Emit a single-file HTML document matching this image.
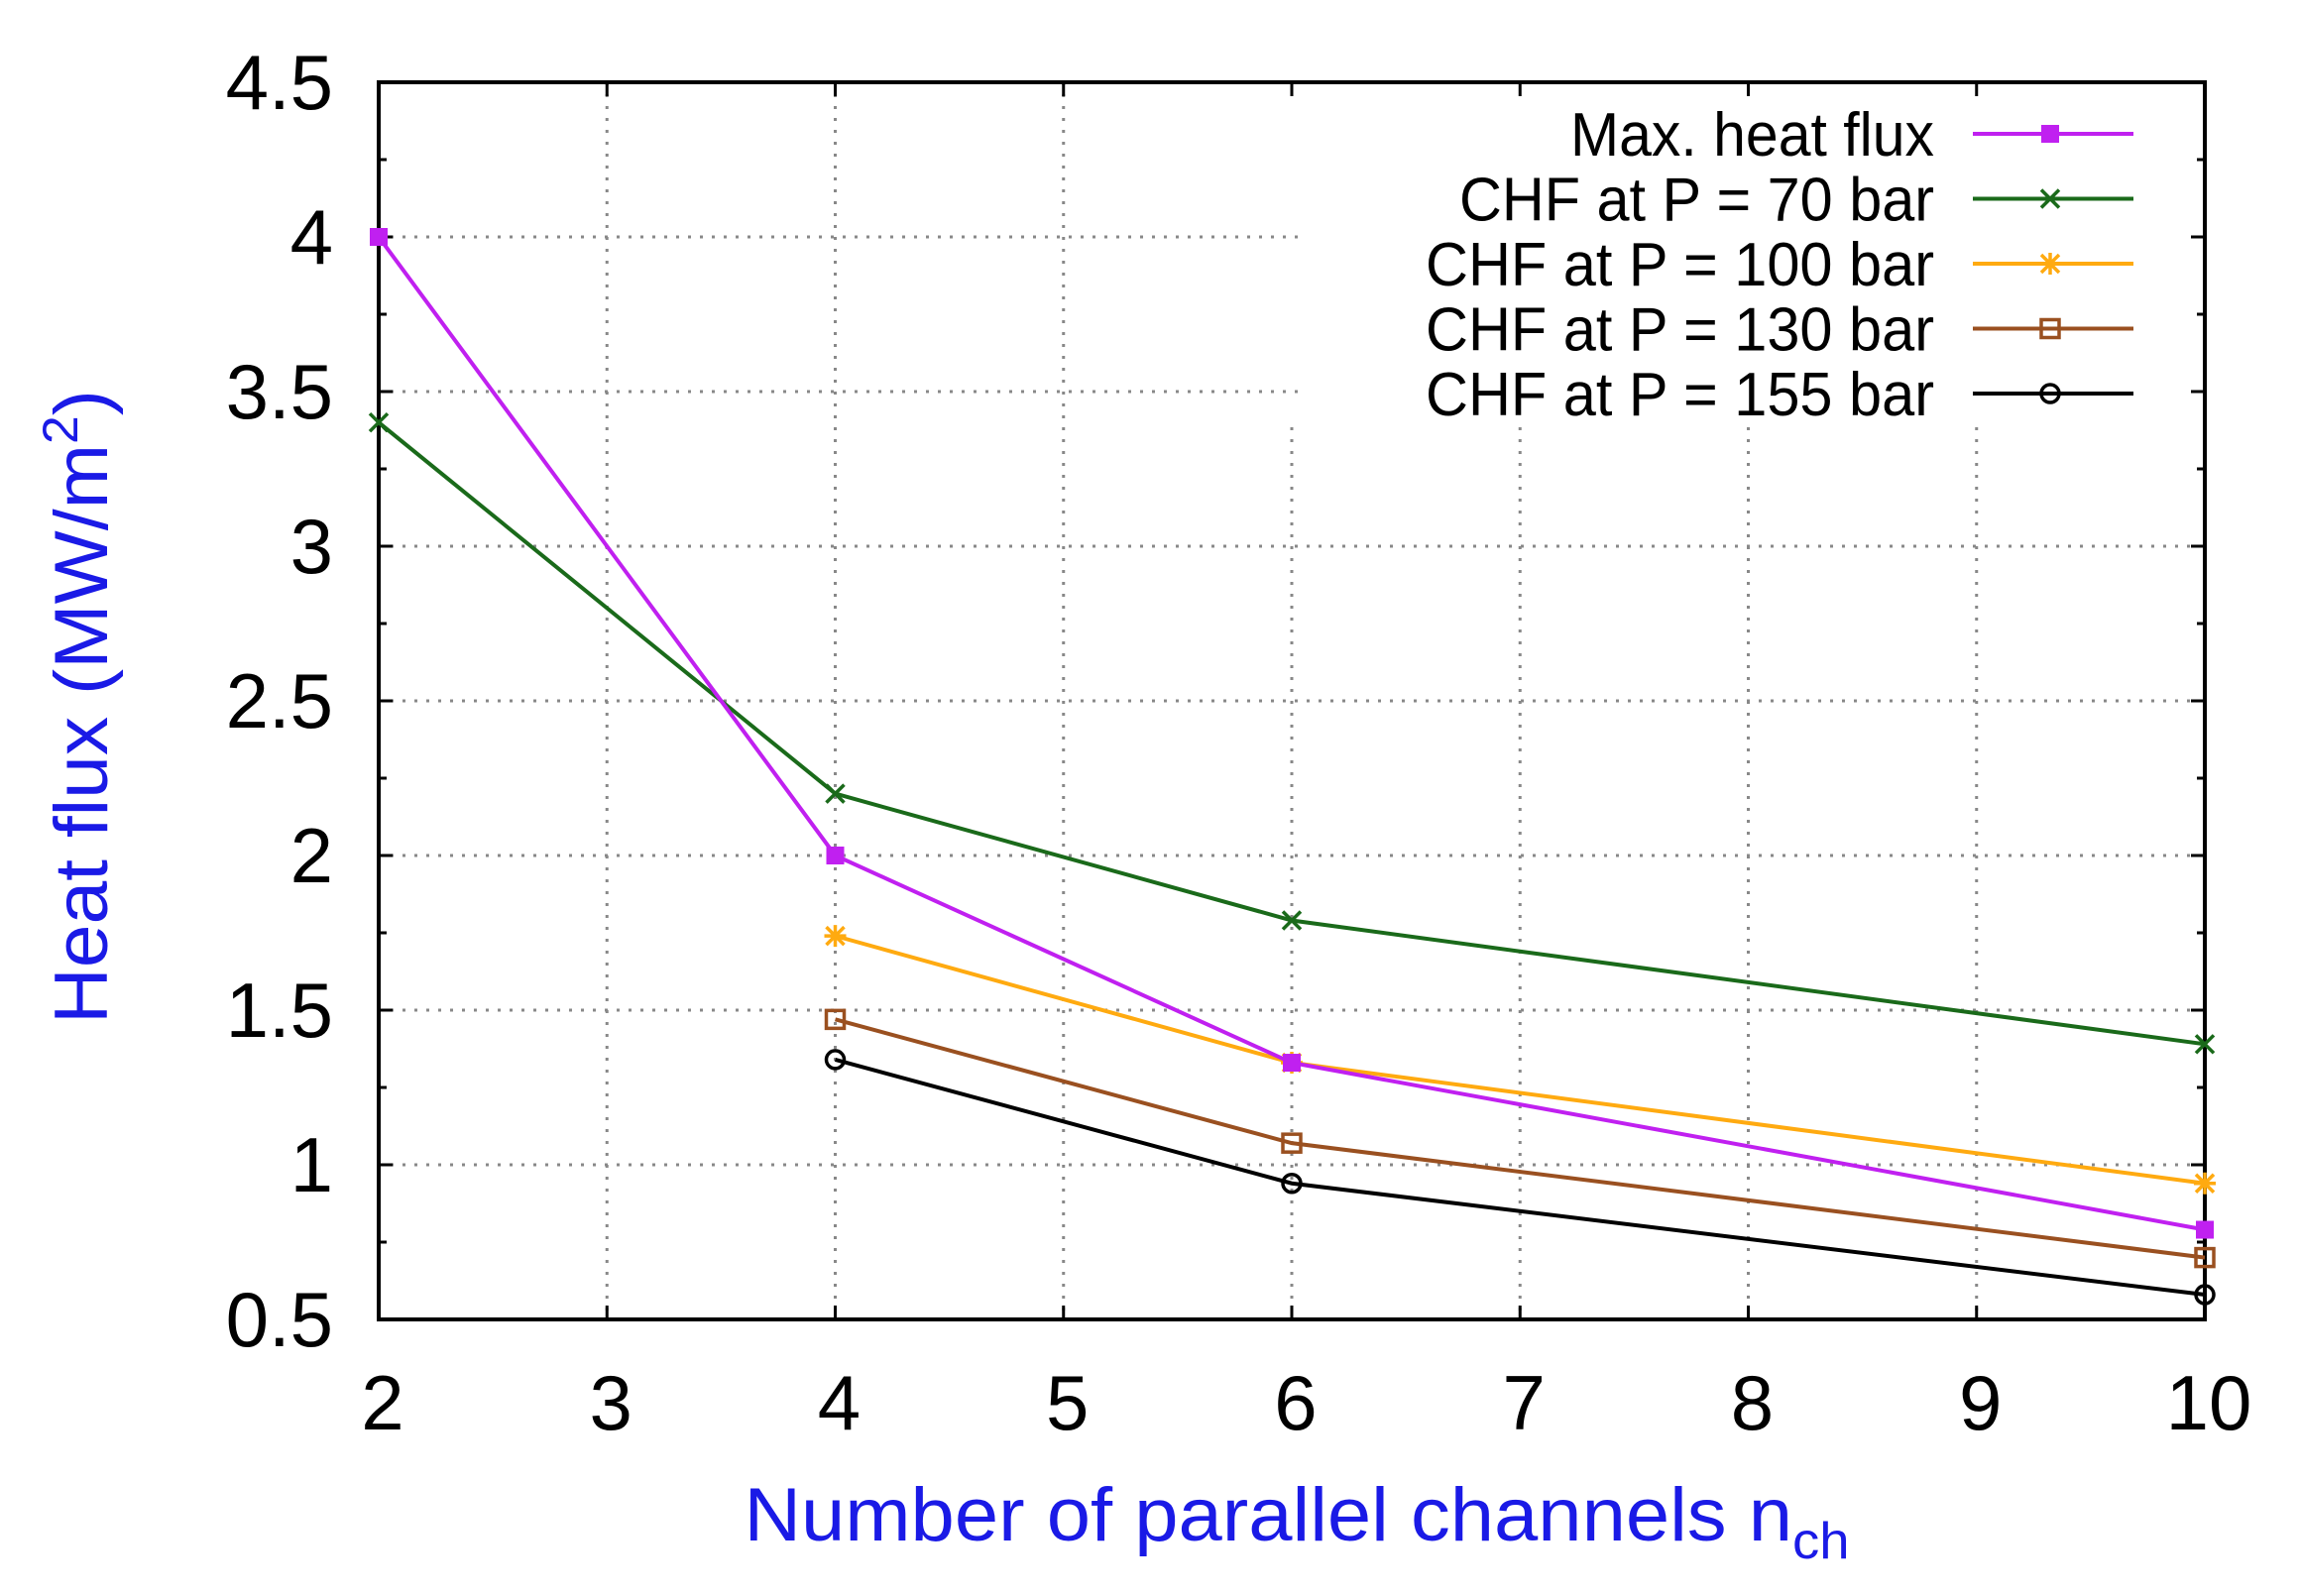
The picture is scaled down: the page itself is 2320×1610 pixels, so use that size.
<!DOCTYPE html>
<html><head><meta charset="utf-8"><style>
html,body{margin:0;padding:0;background:#fff;}
svg{display:block;font-family:"Liberation Sans",sans-serif;}
</style></head><body>
<svg id="chart" width="2320" height="1610" viewBox="0 0 2320 1610" xmlns="http://www.w3.org/2000/svg">
<rect x="0" y="0" width="2320" height="1610" fill="#fff"/>
<g id="grid"></g>
<g id="axes"></g>
<g id="series"></g>
<g id="legend"></g>
<text transform="translate(108,713) rotate(-90)" text-anchor="middle" font-size="76" fill="#1a1ae6" textLength="640" lengthAdjust="spacingAndGlyphs">Heat flux (MW/m<tspan font-size="50" dy="-30">2</tspan><tspan dy="30">)</tspan></text>
<text x="1308" y="1554" text-anchor="middle" font-size="76" fill="#1a1ae6" textLength="1115" lengthAdjust="spacingAndGlyphs">Number of parallel channels n<tspan font-size="52" dy="18">ch</tspan></text>
</svg>
<script>
const xTicks = [2,3,4,5,6,7,8,9,10];
const yTicks = [0.5,1,1.5,2,2.5,3,3.5,4,4.5];
const yTickLabels = ["0.5","1","1.5","2","2.5","3","3.5","4","4.5"];
const seriesNames = ["Max. heat flux","CHF at P = 70 bar","CHF at P = 100 bar","CHF at P = 130 bar","CHF at P = 155 bar"];
const xMax = [2,4,6,10];
const yMax = [4.0,2.0,1.33,0.79];
const x70 = [2,4,6,10];
const y70 = [3.4,2.2,1.79,1.39];
const x100 = [4,6,10];
const y100 = [1.74,1.33,0.94];
const x130 = [4,6,10];
const y130 = [1.47,1.07,0.70];
const x155 = [4,6,10];
const y155 = [1.34,0.94,0.58];

const L=382,R=2224,T=83,B=1331;
const X=v=>L+(v-2)/8*(R-L);
const Y=v=>B-(v-0.5)/4*(B-T);
const NS="http://www.w3.org/2000/svg";
function mk(tag,parent,attrs){const e=document.createElementNS(NS,tag);for(const k in attrs)e.setAttribute(k,attrs[k]);parent.appendChild(e);return e;}
const grid=document.getElementById('grid'),axes=document.getElementById('axes'),ser=document.getElementById('series'),leg=document.getElementById('legend');
const legX=1309,legY=431;
xTicks.forEach(v=>{
  if(v>2&&v<10){
    const top=X(v)>=legX-8?legY:T;
    const g=mk('line',grid,{x1:X(v),x2:X(v),y1:top,y2:B,stroke:'#888','stroke-width':3,'stroke-dasharray':'3 9'});
    
    
  }
  const t=mk('line',axes,{x1:X(v),x2:X(v),y1:B,y2:B-14,stroke:'#000','stroke-width':3});
  
  
  const t2=mk('line',axes,{x1:X(v),x2:X(v),y1:T,y2:T+14,stroke:'#000','stroke-width':3});
  
  
  const lb=mk('text',axes,{x:X(v)+4,y:1442,'text-anchor':'middle','font-size':78,fill:'#000'});
  lb.textContent=v;
  
  
});
yTicks.forEach((v,i)=>{
  if(v>0.5&&v<4.5){
    const right=Y(v)<legY?legX:R;
    const g=mk('line',grid,{x1:L,x2:right,y1:Y(v),y2:Y(v),stroke:'#888','stroke-width':3,'stroke-dasharray':'3 9'});
    
    
  }
  const t=mk('line',axes,{x1:L,x2:L+14,y1:Y(v),y2:Y(v),stroke:'#000','stroke-width':3});
  
  
  const t2=mk('line',axes,{x1:R,x2:R-14,y1:Y(v),y2:Y(v),stroke:'#000','stroke-width':3});
  
  
  const lb=mk('text',axes,{x:336,y:Y(v)+27,'text-anchor':'end','font-size':78,fill:'#000'});
  lb.textContent=yTickLabels[i];
  
  
  if(i<yTicks.length-1){
    const mv=v+0.25;
    const m=mk('line',axes,{x1:L,x2:L+8,y1:Y(mv),y2:Y(mv),stroke:'#000','stroke-width':3});
    
    
    const m2=mk('line',axes,{x1:R,x2:R-8,y1:Y(mv),y2:Y(mv),stroke:'#000','stroke-width':3});
    
    
  }
});
const frame=mk('rect',axes,{x:L,y:T,width:R-L,height:B-T,fill:'none',stroke:'#000','stroke-width':4});



function marker(g,type,cx,cy,color){
  const s=9;
  if(type==='sq') mk('rect',g,{x:cx-s,y:cy-s,width:2*s,height:2*s,fill:color});
  else if(type==='x'){mk('path',g,{d:`M${cx-s} ${cy-s}L${cx+s} ${cy+s}M${cx-s} ${cy+s}L${cx+s} ${cy-s}`,stroke:color,'stroke-width':3.5,fill:'none'});}
  else if(type==='star'){mk('path',g,{d:`M${cx-s} ${cy-s}L${cx+s} ${cy+s}M${cx-s} ${cy+s}L${cx+s} ${cy-s}M${cx} ${cy-s-2}L${cx} ${cy+s+2}M${cx-s-2} ${cy}L${cx+s+2} ${cy}`,stroke:color,'stroke-width':3.5,fill:'none'});}
  else if(type==='osq') mk('rect',g,{x:cx-s,y:cy-s,width:2*s,height:2*s,fill:'none',stroke:color,'stroke-width':3.5});
  else mk('circle',g,{cx:cx,cy:cy,r:s,fill:'none',stroke:color,'stroke-width':3.5});
}
const defs=[
 {xs:xMax,ys:yMax,c:'#c020f0',m:'sq',n:'series-max-heat-flux'},
 {xs:x70,ys:y70,c:'#1a6a1a',m:'x',n:'series-chf-70-bar'},
 {xs:x100,ys:y100,c:'#ffaa10',m:'star',n:'series-chf-100-bar'},
 {xs:x130,ys:y130,c:'#9a5020',m:'osq',n:'series-chf-130-bar'},
 {xs:x155,ys:y155,c:'#000',m:'o',n:'series-chf-155-bar'}
];
const order=[1,2,0,3,4];
order.forEach(i=>{
  const d=defs[i];
  const g=mk('g',ser,{});
  
  
  const pl=mk('polyline',g,{points:d.xs.map((x,j)=>X(x)+','+Y(d.ys[j])).join(' '),fill:'none',stroke:d.c,'stroke-width':4});
  
  
  d.xs.forEach((x,j)=>marker(g,d.m,X(x),Y(d.ys[j]),d.c));
});
const lw=[367,479,513,513,513];
defs.forEach((d,i)=>{
  const cy=135+i*65.5;
  const g=mk('g',leg,{});
  
  
  const t=mk('text',g,{x:1951,y:cy+22,'text-anchor':'end','font-size':62,fill:'#000',textLength:lw[i],lengthAdjust:'spacingAndGlyphs'});
  t.textContent=seriesNames[i];
  mk('line',g,{x1:1990,x2:2152,y1:cy,y2:cy,stroke:d.c,'stroke-width':4});
  marker(g,d.m,2068,cy,d.c);
});
</script>
</body></html>
